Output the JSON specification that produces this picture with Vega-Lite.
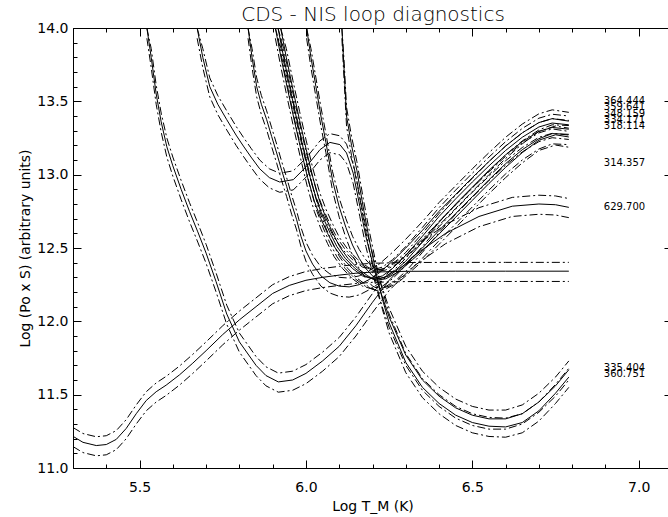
{
"$schema": "https://vega.github.io/schema/vega-lite/v6.json",
"width": 599, "height": 440,
"autosize": {"type": "none"},
"padding": {"left": 73, "top": 28, "right": 0, "bottom": 49},
"background": "white",
"config": {"view": {"stroke": null}},
"data": {"values": [
{"f":"O","x":5.30,"c":11.216,"u":11.276,"l":11.146},
{"f":"O","x":5.33,"c":11.175,"u":11.235,"l":11.105},
{"f":"O","x":5.37,"c":11.153,"u":11.213,"l":11.083},
{"f":"O","x":5.40,"c":11.16,"u":11.22,"l":11.09},
{"f":"O","x":5.43,"c":11.195,"u":11.255,"l":11.125},
{"f":"O","x":5.46,"c":11.27,"u":11.33,"l":11.20},
{"f":"O","x":5.49,"c":11.37,"u":11.43,"l":11.30},
{"f":"O","x":5.52,"c":11.46,"u":11.52,"l":11.39},
{"f":"O","x":5.55,"c":11.52,"u":11.58,"l":11.45},
{"f":"O","x":5.58,"c":11.565,"u":11.625,"l":11.495},
{"f":"O","x":5.62,"c":11.635,"u":11.695,"l":11.565},
{"f":"O","x":5.66,"c":11.715,"u":11.775,"l":11.645},
{"f":"O","x":5.70,"c":11.80,"u":11.86,"l":11.73},
{"f":"O","x":5.75,"c":11.91,"u":11.97,"l":11.84},
{"f":"O","x":5.80,"c":12.01,"u":12.07,"l":11.94},
{"f":"O","x":5.85,"c":12.10,"u":12.16,"l":12.03},
{"f":"O","x":5.90,"c":12.19,"u":12.25,"l":12.12},
{"f":"O","x":5.95,"c":12.245,"u":12.305,"l":12.175},
{"f":"O","x":6.00,"c":12.28,"u":12.34,"l":12.21},
{"f":"O","x":6.05,"c":12.30,"u":12.36,"l":12.23},
{"f":"O","x":6.10,"c":12.315,"u":12.375,"l":12.245},
{"f":"O","x":6.15,"c":12.328,"u":12.388,"l":12.258},
{"f":"O","x":6.20,"c":12.336,"u":12.396,"l":12.266},
{"f":"O","x":6.30,"c":12.341,"u":12.401,"l":12.271},
{"f":"O","x":6.45,"c":12.342,"u":12.402,"l":12.272},
{"f":"O","x":6.60,"c":12.342,"u":12.402,"l":12.272},
{"f":"O","x":6.79,"c":12.342,"u":12.402,"l":12.272},

{"f":"A","x":5.522,"c":14.0,"u":14.0,"l":13.93},
{"f":"A","x":5.535,"c":13.8,"u":13.86,"l":13.73},
{"f":"A","x":5.55,"c":13.55,"u":13.61,"l":13.48},
{"f":"A","x":5.565,"c":13.36,"u":13.42,"l":13.29},
{"f":"A","x":5.582,"c":13.19,"u":13.25,"l":13.12},
{"f":"A","x":5.60,"c":13.06,"u":13.12,"l":12.99},
{"f":"A","x":5.625,"c":12.90,"u":12.96,"l":12.83},
{"f":"A","x":5.65,"c":12.75,"u":12.81,"l":12.68},
{"f":"A","x":5.675,"c":12.61,"u":12.67,"l":12.54},
{"f":"A","x":5.70,"c":12.465,"u":12.525,"l":12.395},
{"f":"A","x":5.73,"c":12.27,"u":12.33,"l":12.20},
{"f":"A","x":5.762,"c":12.05,"u":12.11,"l":11.98},
{"f":"A","x":5.80,"c":11.86,"u":11.92,"l":11.79},
{"f":"A","x":5.85,"c":11.70,"u":11.76,"l":11.63},
{"f":"A","x":5.88,"c":11.63,"u":11.69,"l":11.56},
{"f":"A","x":5.917,"c":11.587,"u":11.647,"l":11.517},
{"f":"A","x":5.96,"c":11.60,"u":11.66,"l":11.53},
{"f":"A","x":6.00,"c":11.645,"u":11.705,"l":11.575},
{"f":"A","x":6.05,"c":11.73,"u":11.79,"l":11.66},
{"f":"A","x":6.10,"c":11.83,"u":11.89,"l":11.76},
{"f":"A","x":6.15,"c":11.97,"u":12.03,"l":11.90},
{"f":"A","x":6.20,"c":12.13,"u":12.19,"l":12.06},
{"f":"A","x":6.25,"c":12.28,"u":12.34,"l":12.21},
{"f":"A","x":6.32,"c":12.44,"u":12.50,"l":12.37},
{"f":"A","x":6.42,"c":12.60,"u":12.66,"l":12.53},
{"f":"A","x":6.52,"c":12.715,"u":12.775,"l":12.645},
{"f":"A","x":6.62,"c":12.785,"u":12.845,"l":12.715},
{"f":"A","x":6.70,"c":12.80,"u":12.86,"l":12.73},
{"f":"A","x":6.75,"c":12.795,"u":12.855,"l":12.725},
{"f":"A","x":6.79,"c":12.777,"u":12.837,"l":12.707},

{"f":"S","x":5.673,"c":14.0,"u":14.0,"l":13.93},
{"f":"S","x":5.69,"c":13.80,"u":13.86,"l":13.73},
{"f":"S","x":5.711,"c":13.60,"u":13.66,"l":13.53},
{"f":"S","x":5.735,"c":13.48,"u":13.54,"l":13.41},
{"f":"S","x":5.762,"c":13.375,"u":13.435,"l":13.305},
{"f":"S","x":5.79,"c":13.27,"u":13.33,"l":13.20},
{"f":"S","x":5.812,"c":13.195,"u":13.255,"l":13.125},
{"f":"S","x":5.835,"c":13.12,"u":13.18,"l":13.05},
{"f":"S","x":5.861,"c":13.04,"u":13.10,"l":12.97},
{"f":"S","x":5.89,"c":12.98,"u":13.04,"l":12.91},
{"f":"S","x":5.921,"c":12.95,"u":13.01,"l":12.88},
{"f":"S","x":5.962,"c":12.966,"u":13.026,"l":12.896},
{"f":"S","x":6.002,"c":13.057,"u":13.117,"l":12.987},
{"f":"S","x":6.042,"c":13.17,"u":13.23,"l":13.10},
{"f":"S","x":6.072,"c":13.22,"u":13.28,"l":13.15},
{"f":"S","x":6.102,"c":13.205,"u":13.265,"l":13.135},
{"f":"S","x":6.122,"c":13.148,"u":13.208,"l":13.078},
{"f":"S","x":6.142,"c":13.01,"u":13.07,"l":12.94},
{"f":"S","x":6.162,"c":12.784,"u":12.844,"l":12.714},
{"f":"S","x":6.18,"c":12.58,"u":12.64,"l":12.51},
{"f":"S","x":6.20,"c":12.40,"u":12.46,"l":12.33},
{"f":"S","x":6.22,"c":12.23,"u":12.29,"l":12.16},
{"f":"S","x":6.25,"c":12.03,"u":12.09,"l":11.96},
{"f":"S","x":6.30,"c":11.77,"u":11.83,"l":11.70},
{"f":"S","x":6.35,"c":11.60,"u":11.66,"l":11.53},
{"f":"S","x":6.40,"c":11.49,"u":11.55,"l":11.42},
{"f":"S","x":6.45,"c":11.41,"u":11.47,"l":11.34},
{"f":"S","x":6.50,"c":11.36,"u":11.42,"l":11.29},
{"f":"S","x":6.55,"c":11.335,"u":11.395,"l":11.265},
{"f":"S","x":6.60,"c":11.335,"u":11.395,"l":11.265},
{"f":"S","x":6.65,"c":11.37,"u":11.43,"l":11.30},
{"f":"S","x":6.70,"c":11.45,"u":11.51,"l":11.38},
{"f":"S","x":6.75,"c":11.56,"u":11.62,"l":11.49},
{"f":"S","x":6.79,"c":11.67,"u":11.73,"l":11.60},

{"f":"F","x":6.108,"c":14.0,"u":14.0,"l":13.93},
{"f":"F","x":6.115,"c":13.70,"u":13.76,"l":13.63},
{"f":"F","x":6.122,"c":13.40,"u":13.46,"l":13.33},
{"f":"F","x":6.137,"c":13.20,"u":13.26,"l":13.13},
{"f":"F","x":6.153,"c":13.03,"u":13.09,"l":12.96},
{"f":"F","x":6.172,"c":12.78,"u":12.84,"l":12.71},
{"f":"F","x":6.19,"c":12.56,"u":12.62,"l":12.49},
{"f":"F","x":6.21,"c":12.34,"u":12.40,"l":12.27},
{"f":"F","x":6.23,"c":12.15,"u":12.21,"l":12.08},
{"f":"F","x":6.25,"c":11.99,"u":12.05,"l":11.92},
{"f":"F","x":6.30,"c":11.72,"u":11.78,"l":11.65},
{"f":"F","x":6.35,"c":11.55,"u":11.61,"l":11.48},
{"f":"F","x":6.40,"c":11.44,"u":11.50,"l":11.37},
{"f":"F","x":6.45,"c":11.36,"u":11.42,"l":11.29},
{"f":"F","x":6.50,"c":11.31,"u":11.37,"l":11.24},
{"f":"F","x":6.55,"c":11.285,"u":11.345,"l":11.215},
{"f":"F","x":6.60,"c":11.28,"u":11.34,"l":11.21},
{"f":"F","x":6.65,"c":11.31,"u":11.37,"l":11.24},
{"f":"F","x":6.70,"c":11.39,"u":11.45,"l":11.32},
{"f":"F","x":6.75,"c":11.51,"u":11.57,"l":11.44},
{"f":"F","x":6.79,"c":11.62,"u":11.68,"l":11.55},

{"f":"C","x":5.826,"c":14.0,"u":14.0,"l":13.93},
{"f":"C","x":5.838,"c":13.80,"u":13.86,"l":13.73},
{"f":"C","x":5.852,"c":13.60,"u":13.66,"l":13.53},
{"f":"C","x":5.866,"c":13.48,"u":13.54,"l":13.41},
{"f":"C","x":5.882,"c":13.375,"u":13.435,"l":13.305},
{"f":"C","x":5.897,"c":13.26,"u":13.32,"l":13.19},
{"f":"C","x":5.912,"c":13.148,"u":13.208,"l":13.078},
{"f":"C","x":5.927,"c":13.03,"u":13.09,"l":12.96},
{"f":"C","x":5.942,"c":12.92,"u":12.98,"l":12.85},
{"f":"C","x":5.957,"c":12.80,"u":12.86,"l":12.73},
{"f":"C","x":5.972,"c":12.693,"u":12.753,"l":12.623},
{"f":"C","x":5.985,"c":12.58,"u":12.64,"l":12.51},
{"f":"C","x":6.00,"c":12.48,"u":12.54,"l":12.41},
{"f":"C","x":6.02,"c":12.39,"u":12.45,"l":12.32},
{"f":"C","x":6.045,"c":12.31,"u":12.37,"l":12.24},
{"f":"C","x":6.072,"c":12.263,"u":12.323,"l":12.193},
{"f":"C","x":6.10,"c":12.24,"u":12.30,"l":12.17},
{"f":"C","x":6.13,"c":12.235,"u":12.295,"l":12.165},
{"f":"C","x":6.16,"c":12.25,"u":12.31,"l":12.18},
{"f":"C","x":6.19,"c":12.285,"u":12.345,"l":12.215},
{"f":"C","x":6.22,"c":12.33,"u":12.39,"l":12.26},
{"f":"C","x":6.26,"c":12.41,"u":12.47,"l":12.34},
{"f":"C","x":6.30,"c":12.50,"u":12.56,"l":12.43},
{"f":"C","x":6.35,"c":12.62,"u":12.68,"l":12.55},
{"f":"C","x":6.40,"c":12.75,"u":12.81,"l":12.68},
{"f":"C","x":6.45,"c":12.865,"u":12.925,"l":12.795},
{"f":"C","x":6.50,"c":12.98,"u":13.04,"l":12.91},
{"f":"C","x":6.55,"c":13.09,"u":13.15,"l":13.02},
{"f":"C","x":6.60,"c":13.195,"u":13.255,"l":13.125},
{"f":"C","x":6.65,"c":13.285,"u":13.345,"l":13.215},
{"f":"C","x":6.70,"c":13.355,"u":13.415,"l":13.285},
{"f":"C","x":6.74,"c":13.382,"u":13.442,"l":13.312},
{"f":"C","x":6.79,"c":13.365,"u":13.425,"l":13.295},

{"f":"D1","x":5.908,"c":14.0,"u":14.0,"l":13.93},
{"f":"D1","x":5.925,"c":13.80,"u":13.86,"l":13.73},
{"f":"D1","x":5.945,"c":13.58,"u":13.64,"l":13.51},
{"f":"D1","x":5.965,"c":13.37,"u":13.43,"l":13.30},
{"f":"D1","x":5.985,"c":13.17,"u":13.23,"l":13.10},
{"f":"D1","x":6.005,"c":12.98,"u":13.04,"l":12.91},
{"f":"D1","x":6.025,"c":12.82,"u":12.88,"l":12.75},
{"f":"D1","x":6.045,"c":12.70,"u":12.76,"l":12.63},
{"f":"D1","x":6.065,"c":12.60,"u":12.66,"l":12.53},
{"f":"D1","x":6.085,"c":12.51,"u":12.57,"l":12.44},
{"f":"D1","x":6.11,"c":12.43,"u":12.49,"l":12.36},
{"f":"D1","x":6.14,"c":12.36,"u":12.42,"l":12.29},
{"f":"D1","x":6.17,"c":12.31,"u":12.37,"l":12.24},
{"f":"D1","x":6.20,"c":12.29,"u":12.35,"l":12.22},
{"f":"D1","x":6.23,"c":12.31,"u":12.37,"l":12.24},
{"f":"D1","x":6.26,"c":12.36,"u":12.42,"l":12.29},
{"f":"D1","x":6.30,"c":12.45,"u":12.51,"l":12.38},
{"f":"D1","x":6.35,"c":12.58,"u":12.64,"l":12.51},
{"f":"D1","x":6.40,"c":12.715,"u":12.775,"l":12.645},
{"f":"D1","x":6.45,"c":12.835,"u":12.895,"l":12.765},
{"f":"D1","x":6.50,"c":12.95,"u":13.01,"l":12.88},
{"f":"D1","x":6.55,"c":13.06,"u":13.12,"l":12.99},
{"f":"D1","x":6.60,"c":13.165,"u":13.225,"l":13.095},
{"f":"D1","x":6.65,"c":13.255,"u":13.315,"l":13.185},
{"f":"D1","x":6.70,"c":13.325,"u":13.385,"l":13.255},
{"f":"D1","x":6.74,"c":13.352,"u":13.412,"l":13.282},
{"f":"D1","x":6.79,"c":13.34,"u":13.40,"l":13.27},

{"f":"D2","x":5.916,"c":14.0,"u":14.0,"l":13.93},
{"f":"D2","x":5.933,"c":13.80,"u":13.86,"l":13.73},
{"f":"D2","x":5.953,"c":13.58,"u":13.64,"l":13.51},
{"f":"D2","x":5.973,"c":13.37,"u":13.43,"l":13.30},
{"f":"D2","x":5.993,"c":13.17,"u":13.23,"l":13.10},
{"f":"D2","x":6.013,"c":12.98,"u":13.04,"l":12.91},
{"f":"D2","x":6.033,"c":12.82,"u":12.88,"l":12.75},
{"f":"D2","x":6.053,"c":12.70,"u":12.76,"l":12.63},
{"f":"D2","x":6.073,"c":12.60,"u":12.66,"l":12.53},
{"f":"D2","x":6.093,"c":12.51,"u":12.57,"l":12.44},
{"f":"D2","x":6.118,"c":12.43,"u":12.49,"l":12.36},
{"f":"D2","x":6.148,"c":12.36,"u":12.42,"l":12.29},
{"f":"D2","x":6.178,"c":12.31,"u":12.37,"l":12.24},
{"f":"D2","x":6.205,"c":12.285,"u":12.345,"l":12.215},
{"f":"D2","x":6.235,"c":12.30,"u":12.36,"l":12.23},
{"f":"D2","x":6.27,"c":12.35,"u":12.41,"l":12.28},
{"f":"D2","x":6.30,"c":12.41,"u":12.47,"l":12.34},
{"f":"D2","x":6.35,"c":12.54,"u":12.60,"l":12.47},
{"f":"D2","x":6.40,"c":12.675,"u":12.735,"l":12.605},
{"f":"D2","x":6.45,"c":12.80,"u":12.86,"l":12.73},
{"f":"D2","x":6.50,"c":12.915,"u":12.975,"l":12.845},
{"f":"D2","x":6.55,"c":13.03,"u":13.09,"l":12.96},
{"f":"D2","x":6.60,"c":13.135,"u":13.195,"l":13.065},
{"f":"D2","x":6.65,"c":13.225,"u":13.285,"l":13.155},
{"f":"D2","x":6.70,"c":13.295,"u":13.355,"l":13.225},
{"f":"D2","x":6.74,"c":13.322,"u":13.382,"l":13.252},
{"f":"D2","x":6.79,"c":13.31,"u":13.37,"l":13.24},

{"f":"D3","x":5.924,"c":14.0,"u":14.0,"l":13.93},
{"f":"D3","x":5.941,"c":13.80,"u":13.86,"l":13.73},
{"f":"D3","x":5.961,"c":13.58,"u":13.64,"l":13.51},
{"f":"D3","x":5.981,"c":13.37,"u":13.43,"l":13.30},
{"f":"D3","x":6.001,"c":13.17,"u":13.23,"l":13.10},
{"f":"D3","x":6.021,"c":12.98,"u":13.04,"l":12.91},
{"f":"D3","x":6.041,"c":12.82,"u":12.88,"l":12.75},
{"f":"D3","x":6.061,"c":12.70,"u":12.76,"l":12.63},
{"f":"D3","x":6.081,"c":12.60,"u":12.66,"l":12.53},
{"f":"D3","x":6.101,"c":12.51,"u":12.57,"l":12.44},
{"f":"D3","x":6.126,"c":12.43,"u":12.49,"l":12.36},
{"f":"D3","x":6.156,"c":12.36,"u":12.42,"l":12.29},
{"f":"D3","x":6.186,"c":12.31,"u":12.37,"l":12.24},
{"f":"D3","x":6.21,"c":12.28,"u":12.34,"l":12.21},
{"f":"D3","x":6.24,"c":12.29,"u":12.35,"l":12.22},
{"f":"D3","x":6.28,"c":12.34,"u":12.40,"l":12.27},
{"f":"D3","x":6.32,"c":12.42,"u":12.48,"l":12.35},
{"f":"D3","x":6.35,"c":12.48,"u":12.54,"l":12.41},
{"f":"D3","x":6.40,"c":12.595,"u":12.655,"l":12.525},
{"f":"D3","x":6.45,"c":12.71,"u":12.77,"l":12.64},
{"f":"D3","x":6.50,"c":12.825,"u":12.885,"l":12.755},
{"f":"D3","x":6.55,"c":12.94,"u":13.00,"l":12.87},
{"f":"D3","x":6.60,"c":13.05,"u":13.11,"l":12.98},
{"f":"D3","x":6.65,"c":13.15,"u":13.21,"l":13.08},
{"f":"D3","x":6.70,"c":13.235,"u":13.295,"l":13.165},
{"f":"D3","x":6.75,"c":13.272,"u":13.332,"l":13.202},
{"f":"D3","x":6.79,"c":13.257,"u":13.317,"l":13.187},

{"f":"E","x":6.002,"c":14.0,"u":14.0,"l":13.93},
{"f":"E","x":6.015,"c":13.80,"u":13.86,"l":13.73},
{"f":"E","x":6.03,"c":13.60,"u":13.66,"l":13.53},
{"f":"E","x":6.045,"c":13.40,"u":13.46,"l":13.33},
{"f":"E","x":6.06,"c":13.22,"u":13.28,"l":13.15},
{"f":"E","x":6.08,"c":12.96,"u":13.02,"l":12.89},
{"f":"E","x":6.10,"c":12.78,"u":12.84,"l":12.71},
{"f":"E","x":6.12,"c":12.64,"u":12.70,"l":12.57},
{"f":"E","x":6.14,"c":12.52,"u":12.58,"l":12.45},
{"f":"E","x":6.16,"c":12.43,"u":12.49,"l":12.36},
{"f":"E","x":6.18,"c":12.36,"u":12.42,"l":12.29},
{"f":"E","x":6.20,"c":12.31,"u":12.37,"l":12.24},
{"f":"E","x":6.22,"c":12.29,"u":12.35,"l":12.22},
{"f":"E","x":6.25,"c":12.31,"u":12.37,"l":12.24},
{"f":"E","x":6.28,"c":12.36,"u":12.42,"l":12.29},
{"f":"E","x":6.30,"c":12.39,"u":12.45,"l":12.32},
{"f":"E","x":6.35,"c":12.50,"u":12.56,"l":12.43},
{"f":"E","x":6.40,"c":12.62,"u":12.68,"l":12.55},
{"f":"E","x":6.45,"c":12.735,"u":12.795,"l":12.665},
{"f":"E","x":6.50,"c":12.85,"u":12.91,"l":12.78},
{"f":"E","x":6.55,"c":12.965,"u":13.025,"l":12.895},
{"f":"E","x":6.60,"c":13.075,"u":13.135,"l":13.005},
{"f":"E","x":6.65,"c":13.17,"u":13.23,"l":13.10},
{"f":"E","x":6.70,"c":13.245,"u":13.305,"l":13.175},
{"f":"E","x":6.74,"c":13.28,"u":13.34,"l":13.21},
{"f":"E","x":6.79,"c":13.275,"u":13.335,"l":13.205}
]},
"layer": [
{
"transform": [{"fold": ["c"], "as": ["b", "y"]}],
"mark": {"type": "line", "clip": true, "color": "black", "strokeWidth": 1},
"encoding": {
"x": {"field": "x", "type": "quantitative", "scale": {"domain": [5.3, 7.1], "nice": false, "zero": false},
"axis": {"orient": "bottom", "values": [5.5, 6.0, 6.5, 7.0], "format": ".1f", "ticks": false,
"labelPadding": 12, "labelFont": "DejaVu Sans", "labelFontSize": 14, "labelColor": "black", "labelFlush": false, "labelOverlap": false,
"title": "Log T_M (K)", "titleFont": "DejaVu Sans", "titleFontSize": 14, "titleFontWeight": "normal", "titleColor": "black", "titlePadding": 5,
"grid": false, "domainColor": "black"}},
"y": {"field": "y", "type": "quantitative", "scale": {"domain": [11, 14], "nice": false, "zero": false},
"axis": {"orient": "left", "values": [11.0, 11.5, 12.0, 12.5, 13.0, 13.5, 14.0], "format": ".1f", "ticks": false,
"labelPadding": 5, "labelFont": "DejaVu Sans", "labelFontSize": 14, "labelColor": "black", "labelFlush": false, "labelOverlap": false,
"title": "Log (Po x S) (arbitrary units)", "titleFont": "DejaVu Sans", "titleFontSize": 14, "titleFontWeight": "normal", "titleColor": "black", "titlePadding": 4,
"grid": false, "domainColor": "black"}},
"detail": {"field": "f"}
}
},
{
"transform": [{"fold": ["u"], "as": ["b", "y"]}],
"mark": {"type": "line", "clip": true, "color": "black", "strokeWidth": 1, "strokeDash": [8, 3, 2, 3]},
"encoding": {
"x": {"field": "x", "type": "quantitative",
"axis": {"orient": "bottom", "values": [5.3,5.4,5.5,5.6,5.7,5.8,5.9,6.0,6.1,6.2,6.3,6.4,6.5,6.6,6.7,6.8,6.9,7.0,7.1], "labels": false, "title": null, "domain": false,
"tickSize": {"condition": {"test": "abs(datum.value*2-round(datum.value*2))<0.01", "value": -8}, "value": -4},
"grid": false, "tickColor": "black"}},
"y": {"field": "y", "type": "quantitative",
"axis": {"orient": "left", "values": [11.0,11.1,11.2,11.3,11.4,11.5,11.6,11.7,11.8,11.9,12.0,12.1,12.2,12.3,12.4,12.5,12.6,12.7,12.8,12.9,13.0,13.1,13.2,13.3,13.4,13.5,13.6,13.7,13.8,13.9,14.0], "labels": false, "title": null, "domain": false,
"tickSize": {"condition": {"test": "abs(datum.value*2-round(datum.value*2))<0.01", "value": -8}, "value": -4},
"grid": false, "tickColor": "black"}},
"detail": {"field": "f"}
}
},
{
"transform": [{"fold": ["l"], "as": ["b", "y"]}],
"mark": {"type": "line", "clip": true, "color": "black", "strokeWidth": 1, "strokeDash": [8, 3, 2, 3]},
"encoding": {
"x": {"field": "x", "type": "quantitative",
"axis": {"orient": "top", "labels": false, "ticks": false, "grid": false, "domainColor": "black",
"title": "CDS - NIS loop diagnostics", "titleFont": "DejaVu Sans", "titleFontSize": 20, "titleFontWeight": 200, "titleColor": "black", "titlePadding": 4}},
"y": {"field": "y", "type": "quantitative", "axis": null},
"detail": {"field": "f"}
}
},
{
"data": {"values": [
{"t": "364.444", "x": 6.895, "y": 13.50},
{"t": "359.641", "x": 6.895, "y": 13.46},
{"t": "348.159", "x": 6.895, "y": 13.414},
{"t": "334.171", "x": 6.895, "y": 13.37},
{"t": "318.114", "x": 6.895, "y": 13.33},
{"t": "314.357", "x": 6.895, "y": 13.08},
{"t": "629.700", "x": 6.895, "y": 12.78},
{"t": "335.404", "x": 6.895, "y": 11.68},
{"t": "360.751", "x": 6.895, "y": 11.64}
]},
"mark": {"type": "text", "align": "left", "baseline": "middle", "font": "DejaVu Sans", "fontSize": 10, "color": "black"},
"encoding": {
"x": {"field": "x", "type": "quantitative",
"axis": {"orient": "top", "values": [5.3,5.4,5.5,5.6,5.7,5.8,5.9,6.0,6.1,6.2,6.3,6.4,6.5,6.6,6.7,6.8,6.9,7.0,7.1], "labels": false, "title": null,
"tickSize": {"condition": {"test": "abs(datum.value*2-round(datum.value*2))<0.01", "value": -8}, "value": -4},
"grid": false, "domainColor": "black", "tickColor": "black"}},
"y": {"field": "y", "type": "quantitative",
"axis": {"orient": "right", "values": [11.0,11.1,11.2,11.3,11.4,11.5,11.6,11.7,11.8,11.9,12.0,12.1,12.2,12.3,12.4,12.5,12.6,12.7,12.8,12.9,13.0,13.1,13.2,13.3,13.4,13.5,13.6,13.7,13.8,13.9,14.0], "labels": false, "title": null,
"tickSize": {"condition": {"test": "abs(datum.value*2-round(datum.value*2))<0.01", "value": -8}, "value": -4},
"grid": false, "domainColor": "black", "tickColor": "black"}},
"text": {"field": "t"}
}
}
],
"resolve": {"axis": {"x": "independent", "y": "independent"}}
}
